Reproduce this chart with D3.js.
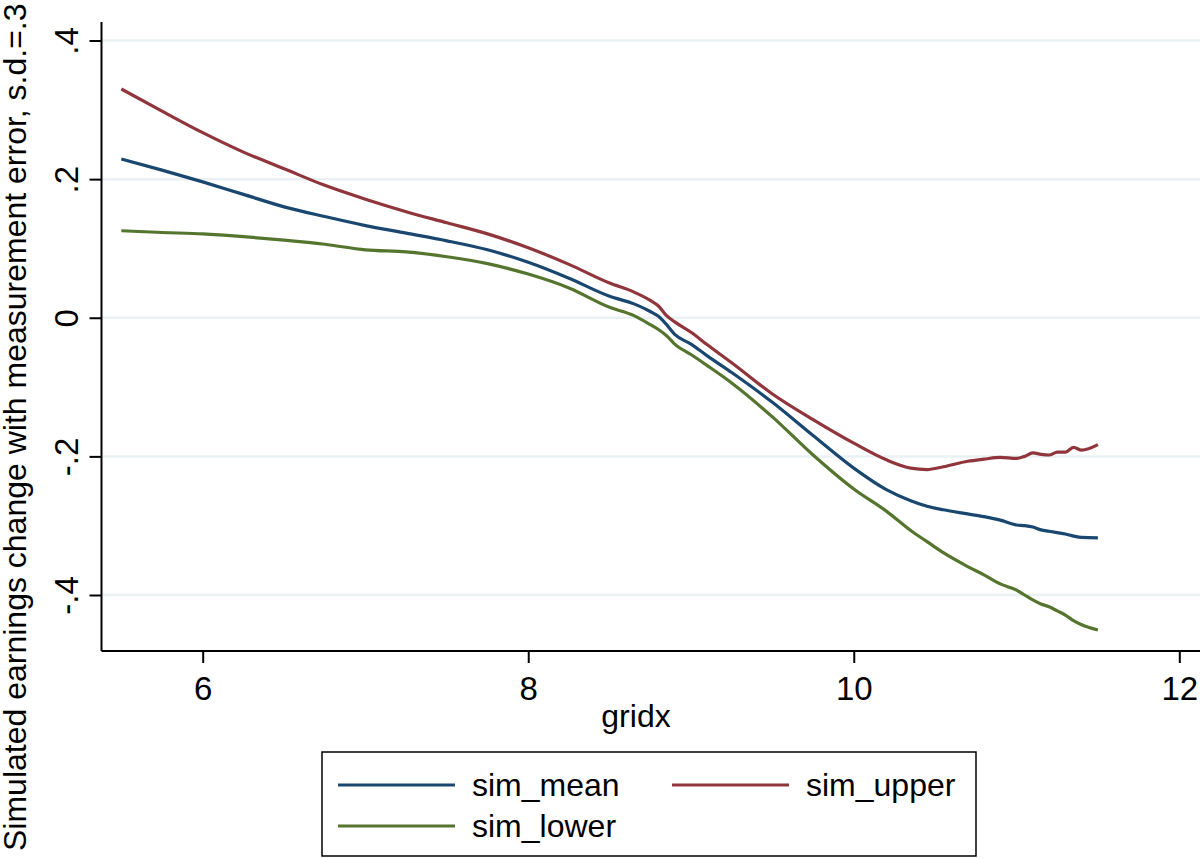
<!DOCTYPE html>
<html>
<head>
<meta charset="utf-8">
<script src="https://cdn.jsdelivr.net/npm/d3@7"></script>
<style>
  html, body { margin: 0; padding: 0; background: #fff; }
  svg { display: block; font-family: "Liberation Sans", Arial, Helvetica, sans-serif; }
</style>
</head>
<body>
<svg id="chart" width="1200" height="858"></svg>
<script>
const gridx = [5.5, 5.75, 6.0, 6.25, 6.5, 6.75, 7.0, 7.25, 7.5, 7.75, 8.0, 8.25, 8.5, 8.65, 8.75, 8.8, 8.85, 8.9, 9.0, 9.1, 9.25, 9.5, 9.75, 10.0, 10.2, 10.35, 10.45, 10.55, 10.7, 10.8, 10.9, 11.0, 11.05, 11.1, 11.15, 11.2, 11.25, 11.3, 11.35, 11.4, 11.5];

const simMean = [0.229, 0.213, 0.196, 0.178, 0.160, 0.146, 0.133, 0.122, 0.111, 0.098, 0.080, 0.057, 0.031, 0.020, 0.009, 0.002, -0.010, -0.024, -0.038, -0.055, -0.079, -0.122, -0.170, -0.217, -0.248, -0.264, -0.272, -0.277, -0.283, -0.287, -0.292, -0.299, -0.300, -0.302, -0.306, -0.308, -0.310, -0.312, -0.315, -0.317, -0.3175];

const simUpper = [0.330, 0.298, 0.267, 0.239, 0.215, 0.191, 0.171, 0.153, 0.137, 0.121, 0.101, 0.077, 0.050, 0.037, 0.025, 0.017, 0.003, -0.006, -0.021, -0.039, -0.065, -0.110, -0.147, -0.181, -0.205, -0.217, -0.219, -0.215, -0.207, -0.204, -0.2015, -0.203, -0.200, -0.195, -0.197, -0.198, -0.194, -0.194, -0.187, -0.191, -0.183];

const simLower = [0.1255, 0.123, 0.121, 0.117, 0.112, 0.106, 0.098, 0.095, 0.088, 0.078, 0.063, 0.043, 0.015, 0.003, -0.010, -0.017, -0.026, -0.038, -0.053, -0.069, -0.094, -0.143, -0.198, -0.247, -0.279, -0.307, -0.323, -0.339, -0.359, -0.371, -0.384, -0.393, -0.400, -0.407, -0.413, -0.417, -0.423, -0.429, -0.437, -0.443, -0.4505];

const xTicks = [6, 8, 10, 12];
const yTicks = [0.4, 0.2, 0, -0.2, -0.4];
const yTickLabels = [".4", ".2", "0", "-.2", "-.4"];

const seriesNames = ["sim_mean", "sim_upper", "sim_lower"];
const seriesColors = ["#1a476f", "#90353b", "#55752f"];
const xTitle = "gridx";
const yTitle = "Simulated earnings change with measurement error, s.d.=.3";

(function () {
const svg = d3.select("#chart");
const W = 1200, H = 858;
const pLeft = 101.5, pRight = 1200, pTop = 22, pBottom = 651;

const x = d3.scaleLinear().domain([6, 12]).range([202.7, 1179.3]);
const y = d3.scaleLinear().domain([-0.4, 0.4]).range([595, 40.5]);

svg.append("rect").attr("width", W).attr("height", H).attr("fill", "#fff");

// gridlines
svg.append("g").selectAll("line").data(yTicks).join("line")
  .attr("x1", pLeft).attr("x2", pRight)
  .attr("y1", d => y(d)).attr("y2", d => y(d))
  .attr("stroke", "#eaf1f3").attr("stroke-width", 2.5);

// y axis
const yAxis = d3.axisLeft(y).tickValues(yTicks).tickSize(12)
  .tickFormat((d, i) => yTickLabels[i]);
const gy = svg.append("g").attr("transform", `translate(${pLeft},0)`).call(yAxis);
gy.select(".domain").attr("d", `M0,${pTop}V${pBottom}`).attr("stroke", "#000").attr("stroke-width", 2);
gy.selectAll(".tick line").attr("stroke", "#000").attr("stroke-width", 2);
gy.selectAll(".tick text")
  .attr("x", null).attr("dy", null)
  .attr("transform", "translate(-24,0) rotate(-90)")
  .attr("text-anchor", "middle")
  .attr("font-size", 33).attr("fill", "#000")
  .attr("font-family", "Liberation Sans, Arial, sans-serif");

// x axis
const xAxis = d3.axisBottom(x).tickValues(xTicks).tickSize(12).tickFormat(d3.format("d"));
const gx = svg.append("g").attr("transform", `translate(0,${pBottom})`).call(xAxis);
gx.select(".domain").attr("d", `M${pLeft},0H${pRight}`).attr("stroke", "#000").attr("stroke-width", 2);
gx.selectAll(".tick line").attr("stroke", "#000").attr("stroke-width", 2);
gx.selectAll(".tick text")
  .attr("y", 49).attr("dy", null)
  .attr("font-size", 33).attr("fill", "#000")
  .attr("font-family", "Liberation Sans, Arial, sans-serif");

// axis titles
svg.append("text").attr("x", 636).attr("y", 727)
  .attr("text-anchor", "middle").attr("font-size", 32).attr("fill", "#000")
  .text(xTitle);
svg.append("text").attr("transform", "translate(26,851) rotate(-90)")
  .attr("text-anchor", "start").attr("font-size", 32).attr("fill", "#000")
  .text(yTitle);

// lines
const series = [simMean, simUpper, simLower];
const line = d3.line().x(d => x(d[0])).y(d => y(d[1])).curve(d3.curveMonotoneX);
series.forEach((vals, i) => {
  svg.append("path")
    .datum(gridx.map((g, j) => [g, vals[j]]))
    .attr("d", line)
    .attr("fill", "none")
    .attr("stroke", seriesColors[i])
    .attr("stroke-width", 3.2)
    .attr("stroke-linejoin", "round");
});

// legend
const lg = svg.append("g");
lg.append("rect").attr("x", 322).attr("y", 752).attr("width", 654).attr("height", 104)
  .attr("fill", "#fff").attr("stroke", "#000").attr("stroke-width", 1.5);
const legendPos = [[338, 785], [672, 785], [338, 826]];
seriesNames.forEach((name, i) => {
  const [lx, ly] = legendPos[i];
  lg.append("line").attr("x1", lx).attr("x2", lx + 117).attr("y1", ly).attr("y2", ly)
    .attr("stroke", seriesColors[i]).attr("stroke-width", 3.2);
  lg.append("text").attr("x", lx + 134).attr("y", ly + 11)
    .attr("font-size", 32).attr("fill", "#000").text(name);
});
})();
</script>
</body>
</html>
